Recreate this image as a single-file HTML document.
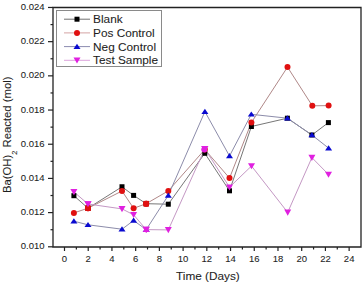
<!DOCTYPE html>
<html><head><meta charset="utf-8"><style>
html,body{margin:0;padding:0;background:#fff;}
body{width:363px;height:284px;overflow:hidden;}
svg{display:block;}
text{font-family:"Liberation Sans",sans-serif;fill:#1e1e1e;stroke:#1e1e1e;stroke-width:0.08px;}
.tk{font-size:9.5px;}
.ti{font-size:11.8px;}
.lg{font-size:11.8px;}
</style></head><body>
<svg width="363" height="284" viewBox="0 0 363 284">
<path d="M53.0 7.5 H361.0 V247.0 H53.0 Z" fill="none" stroke="#222" stroke-width="1.3"/>
<line x1="48" y1="246.80" x2="53.0" y2="246.80" stroke="#222" stroke-width="1.2"/>
<text x="44.6" y="249.30" text-anchor="end" class="tk">0.010</text>
<line x1="50.5" y1="229.71" x2="53.0" y2="229.71" stroke="#222" stroke-width="1.2"/>
<line x1="48" y1="212.61" x2="53.0" y2="212.61" stroke="#222" stroke-width="1.2"/>
<text x="44.6" y="215.11" text-anchor="end" class="tk">0.012</text>
<line x1="50.5" y1="195.52" x2="53.0" y2="195.52" stroke="#222" stroke-width="1.2"/>
<line x1="48" y1="178.42" x2="53.0" y2="178.42" stroke="#222" stroke-width="1.2"/>
<text x="44.6" y="180.92" text-anchor="end" class="tk">0.014</text>
<line x1="50.5" y1="161.33" x2="53.0" y2="161.33" stroke="#222" stroke-width="1.2"/>
<line x1="48" y1="144.23" x2="53.0" y2="144.23" stroke="#222" stroke-width="1.2"/>
<text x="44.6" y="146.73" text-anchor="end" class="tk">0.016</text>
<line x1="50.5" y1="127.14" x2="53.0" y2="127.14" stroke="#222" stroke-width="1.2"/>
<line x1="48" y1="110.04" x2="53.0" y2="110.04" stroke="#222" stroke-width="1.2"/>
<text x="44.6" y="112.54" text-anchor="end" class="tk">0.018</text>
<line x1="50.5" y1="92.95" x2="53.0" y2="92.95" stroke="#222" stroke-width="1.2"/>
<line x1="48" y1="75.85" x2="53.0" y2="75.85" stroke="#222" stroke-width="1.2"/>
<text x="44.6" y="78.35" text-anchor="end" class="tk">0.020</text>
<line x1="50.5" y1="58.76" x2="53.0" y2="58.76" stroke="#222" stroke-width="1.2"/>
<line x1="48" y1="41.66" x2="53.0" y2="41.66" stroke="#222" stroke-width="1.2"/>
<text x="44.6" y="44.16" text-anchor="end" class="tk">0.022</text>
<line x1="50.5" y1="24.57" x2="53.0" y2="24.57" stroke="#222" stroke-width="1.2"/>
<line x1="48" y1="7.47" x2="53.0" y2="7.47" stroke="#222" stroke-width="1.2"/>
<text x="44.6" y="9.97" text-anchor="end" class="tk">0.024</text>
<line x1="64.50" y1="247.0" x2="64.50" y2="251" stroke="#222" stroke-width="1.2"/>
<text x="64.50" y="261.6" text-anchor="middle" class="tk">0</text>
<line x1="76.36" y1="247.0" x2="76.36" y2="249.5" stroke="#222" stroke-width="1.2"/>
<line x1="88.22" y1="247.0" x2="88.22" y2="251" stroke="#222" stroke-width="1.2"/>
<text x="88.22" y="261.6" text-anchor="middle" class="tk">2</text>
<line x1="100.08" y1="247.0" x2="100.08" y2="249.5" stroke="#222" stroke-width="1.2"/>
<line x1="111.94" y1="247.0" x2="111.94" y2="251" stroke="#222" stroke-width="1.2"/>
<text x="111.94" y="261.6" text-anchor="middle" class="tk">4</text>
<line x1="123.80" y1="247.0" x2="123.80" y2="249.5" stroke="#222" stroke-width="1.2"/>
<line x1="135.66" y1="247.0" x2="135.66" y2="251" stroke="#222" stroke-width="1.2"/>
<text x="135.66" y="261.6" text-anchor="middle" class="tk">6</text>
<line x1="147.52" y1="247.0" x2="147.52" y2="249.5" stroke="#222" stroke-width="1.2"/>
<line x1="159.38" y1="247.0" x2="159.38" y2="251" stroke="#222" stroke-width="1.2"/>
<text x="159.38" y="261.6" text-anchor="middle" class="tk">8</text>
<line x1="171.24" y1="247.0" x2="171.24" y2="249.5" stroke="#222" stroke-width="1.2"/>
<line x1="183.10" y1="247.0" x2="183.10" y2="251" stroke="#222" stroke-width="1.2"/>
<text x="183.10" y="261.6" text-anchor="middle" class="tk">10</text>
<line x1="194.96" y1="247.0" x2="194.96" y2="249.5" stroke="#222" stroke-width="1.2"/>
<line x1="206.82" y1="247.0" x2="206.82" y2="251" stroke="#222" stroke-width="1.2"/>
<text x="206.82" y="261.6" text-anchor="middle" class="tk">12</text>
<line x1="218.68" y1="247.0" x2="218.68" y2="249.5" stroke="#222" stroke-width="1.2"/>
<line x1="230.54" y1="247.0" x2="230.54" y2="251" stroke="#222" stroke-width="1.2"/>
<text x="230.54" y="261.6" text-anchor="middle" class="tk">14</text>
<line x1="242.40" y1="247.0" x2="242.40" y2="249.5" stroke="#222" stroke-width="1.2"/>
<line x1="254.26" y1="247.0" x2="254.26" y2="251" stroke="#222" stroke-width="1.2"/>
<text x="254.26" y="261.6" text-anchor="middle" class="tk">16</text>
<line x1="266.12" y1="247.0" x2="266.12" y2="249.5" stroke="#222" stroke-width="1.2"/>
<line x1="277.98" y1="247.0" x2="277.98" y2="251" stroke="#222" stroke-width="1.2"/>
<text x="277.98" y="261.6" text-anchor="middle" class="tk">18</text>
<line x1="289.84" y1="247.0" x2="289.84" y2="249.5" stroke="#222" stroke-width="1.2"/>
<line x1="301.70" y1="247.0" x2="301.70" y2="251" stroke="#222" stroke-width="1.2"/>
<text x="301.70" y="261.6" text-anchor="middle" class="tk">20</text>
<line x1="313.56" y1="247.0" x2="313.56" y2="249.5" stroke="#222" stroke-width="1.2"/>
<line x1="325.42" y1="247.0" x2="325.42" y2="251" stroke="#222" stroke-width="1.2"/>
<text x="325.42" y="261.6" text-anchor="middle" class="tk">22</text>
<line x1="337.28" y1="247.0" x2="337.28" y2="249.5" stroke="#222" stroke-width="1.2"/>
<line x1="349.14" y1="247.0" x2="349.14" y2="251" stroke="#222" stroke-width="1.2"/>
<text x="349.14" y="261.6" text-anchor="middle" class="tk">24</text>
<text x="207.9" y="280" text-anchor="middle" class="ti">Time (Days)</text>
<text transform="translate(11.2,134.8) rotate(-90)" text-anchor="middle" class="ti" style="font-size:11.3px">Ba(OH)<tspan font-size="7.5" dy="5.5">2</tspan><tspan dy="-5.5"> Reacted (mol)</tspan></text>
<polyline fill="none" stroke="#777777" stroke-width="1.0" points="73.9,195.7 88.0,208.2 122.0,186.8 133.6,195.4 146.2,203.7 168.3,204.2 204.8,153.3 229.5,190.8 251.4,126.5 287.4,118.2 311.9,135.0 328.4,122.6"/>
<polyline fill="none" stroke="#b08888" stroke-width="1.0" points="73.9,212.9 88.0,208.2 122.0,191.0 133.6,208.3 146.2,203.7 168.3,190.9 204.8,149.5 229.5,178.1 251.4,122.5 287.5,67.1 312.3,105.8 328.6,105.6"/>
<polyline fill="none" stroke="#8c8caa" stroke-width="1.0" points="73.9,221.2 88.0,224.8 122.0,229.2 133.6,220.5 146.2,229.6 168.3,195.4 204.9,111.6 229.5,156.0 251.3,114.3 287.4,118.2 311.9,135.0 328.6,148.1"/>
<polyline fill="none" stroke="#c498c4" stroke-width="1.0" points="73.9,191.9 88.0,204.0 122.0,208.9 133.6,214.8 146.2,229.6 168.3,229.9 204.8,148.8 229.5,187.2 251.5,166.0 287.7,212.4 311.9,157.6 328.5,174.5"/>
<rect x="71.40" y="193.20" width="5" height="5" fill="#000"/>
<rect x="85.50" y="205.70" width="5" height="5" fill="#000"/>
<rect x="119.50" y="184.25" width="5" height="5" fill="#000"/>
<rect x="131.10" y="192.90" width="5" height="5" fill="#000"/>
<rect x="143.70" y="201.20" width="5" height="5" fill="#000"/>
<rect x="165.80" y="201.70" width="5" height="5" fill="#000"/>
<rect x="202.30" y="150.80" width="5" height="5" fill="#000"/>
<rect x="227.00" y="188.30" width="5" height="5" fill="#000"/>
<rect x="248.90" y="124.00" width="5" height="5" fill="#000"/>
<rect x="284.90" y="115.70" width="5" height="5" fill="#000"/>
<rect x="309.40" y="132.50" width="5" height="5" fill="#000"/>
<rect x="325.90" y="120.10" width="5" height="5" fill="#000"/>
<circle cx="73.90" cy="212.90" r="3" fill="#e01010"/>
<circle cx="88.00" cy="208.20" r="3" fill="#e01010"/>
<circle cx="122.00" cy="191.00" r="3" fill="#e01010"/>
<circle cx="133.60" cy="208.30" r="3" fill="#e01010"/>
<circle cx="146.20" cy="203.70" r="3" fill="#e01010"/>
<circle cx="168.30" cy="190.90" r="3" fill="#e01010"/>
<circle cx="204.80" cy="149.50" r="3" fill="#e01010"/>
<circle cx="229.50" cy="178.10" r="3" fill="#e01010"/>
<circle cx="251.40" cy="122.50" r="3" fill="#e01010"/>
<circle cx="287.50" cy="67.10" r="3" fill="#e01010"/>
<circle cx="312.30" cy="105.80" r="3" fill="#e01010"/>
<circle cx="328.60" cy="105.60" r="3" fill="#e01010"/>
<polygon points="73.90,218.30 70.40,223.50 77.40,223.50" fill="#0a0ad0"/>
<polygon points="88.00,221.90 84.50,227.10 91.50,227.10" fill="#0a0ad0"/>
<polygon points="122.00,226.30 118.50,231.50 125.50,231.50" fill="#0a0ad0"/>
<polygon points="133.60,217.60 130.10,222.80 137.10,222.80" fill="#0a0ad0"/>
<polygon points="146.20,226.70 142.70,231.90 149.70,231.90" fill="#0a0ad0"/>
<polygon points="168.30,192.50 164.80,197.70 171.80,197.70" fill="#0a0ad0"/>
<polygon points="204.90,108.70 201.40,113.90 208.40,113.90" fill="#0a0ad0"/>
<polygon points="229.50,153.10 226.00,158.30 233.00,158.30" fill="#0a0ad0"/>
<polygon points="251.30,111.40 247.80,116.60 254.80,116.60" fill="#0a0ad0"/>
<polygon points="287.40,115.30 283.90,120.50 290.90,120.50" fill="#0a0ad0"/>
<polygon points="311.90,132.10 308.40,137.30 315.40,137.30" fill="#0a0ad0"/>
<polygon points="328.60,145.20 325.10,150.40 332.10,150.40" fill="#0a0ad0"/>
<polygon points="73.90,195.20 70.40,189.10 77.40,189.10" fill="#e020e0"/>
<polygon points="88.00,207.30 84.50,201.20 91.50,201.20" fill="#e020e0"/>
<polygon points="122.00,212.20 118.50,206.10 125.50,206.10" fill="#e020e0"/>
<polygon points="133.60,218.10 130.10,212.00 137.10,212.00" fill="#e020e0"/>
<polygon points="146.20,232.90 142.70,226.80 149.70,226.80" fill="#e020e0"/>
<polygon points="168.30,233.20 164.80,227.10 171.80,227.10" fill="#e020e0"/>
<polygon points="204.80,152.10 201.30,146.00 208.30,146.00" fill="#e020e0"/>
<polygon points="229.50,190.50 226.00,184.40 233.00,184.40" fill="#e020e0"/>
<polygon points="251.50,169.30 248.00,163.20 255.00,163.20" fill="#e020e0"/>
<polygon points="287.70,215.70 284.20,209.60 291.20,209.60" fill="#e020e0"/>
<polygon points="311.90,160.90 308.40,154.80 315.40,154.80" fill="#e020e0"/>
<polygon points="328.50,177.80 325.00,171.70 332.00,171.70" fill="#e020e0"/>
<rect x="85.20" y="205.40" width="5.6" height="5.6" fill="#d01010"/>
<circle cx="88.00" cy="208.20" r="3" fill="#e01010"/>
<polygon points="88.00,207.30 84.50,201.20 91.50,201.20" fill="#e020e0"/>
<rect x="143.40" y="200.90" width="5.6" height="5.6" fill="#d01010"/>
<circle cx="146.20" cy="203.70" r="3" fill="#e01010"/>
<polygon points="146.20,226.70 142.70,231.90 149.70,231.90" fill="#e020e0"/>
<polygon points="146.20,232.90 142.70,226.80 149.70,226.80" fill="#e020e0"/>
<circle cx="204.30" cy="149.50" r="3" fill="#e020e0"/>
<polygon points="204.80,152.10 201.30,146.00 208.30,146.00" fill="#e020e0"/>
<rect x="56.5" y="10.5" width="105" height="56" fill="#fff" stroke="#8a8a8a" stroke-width="1"/>
<line x1="64" y1="19.2" x2="90" y2="19.2" stroke="#707070" stroke-width="1"/>
<rect x="74.50" y="16.70" width="5" height="5" fill="#000"/>
<text x="93.1" y="23.2" class="lg">Blank</text>
<line x1="64" y1="32.9" x2="90" y2="32.9" stroke="#d4a4a4" stroke-width="1"/>
<circle cx="77.00" cy="32.90" r="3" fill="#e01010"/>
<text x="93.1" y="36.9" class="lg">Pos Control</text>
<line x1="64" y1="46.6" x2="90" y2="46.6" stroke="#8c8cb0" stroke-width="1"/>
<polygon points="77.00,43.70 73.50,48.90 80.50,48.90" fill="#0a0ad0"/>
<text x="93.1" y="50.6" class="lg">Neg Control</text>
<line x1="64" y1="60.3" x2="90" y2="60.3" stroke="#dca4dc" stroke-width="1"/>
<polygon points="77.00,63.60 73.50,57.50 80.50,57.50" fill="#e020e0"/>
<text x="93.1" y="64.3" class="lg">Test Sample</text>
</svg>
</body></html>
